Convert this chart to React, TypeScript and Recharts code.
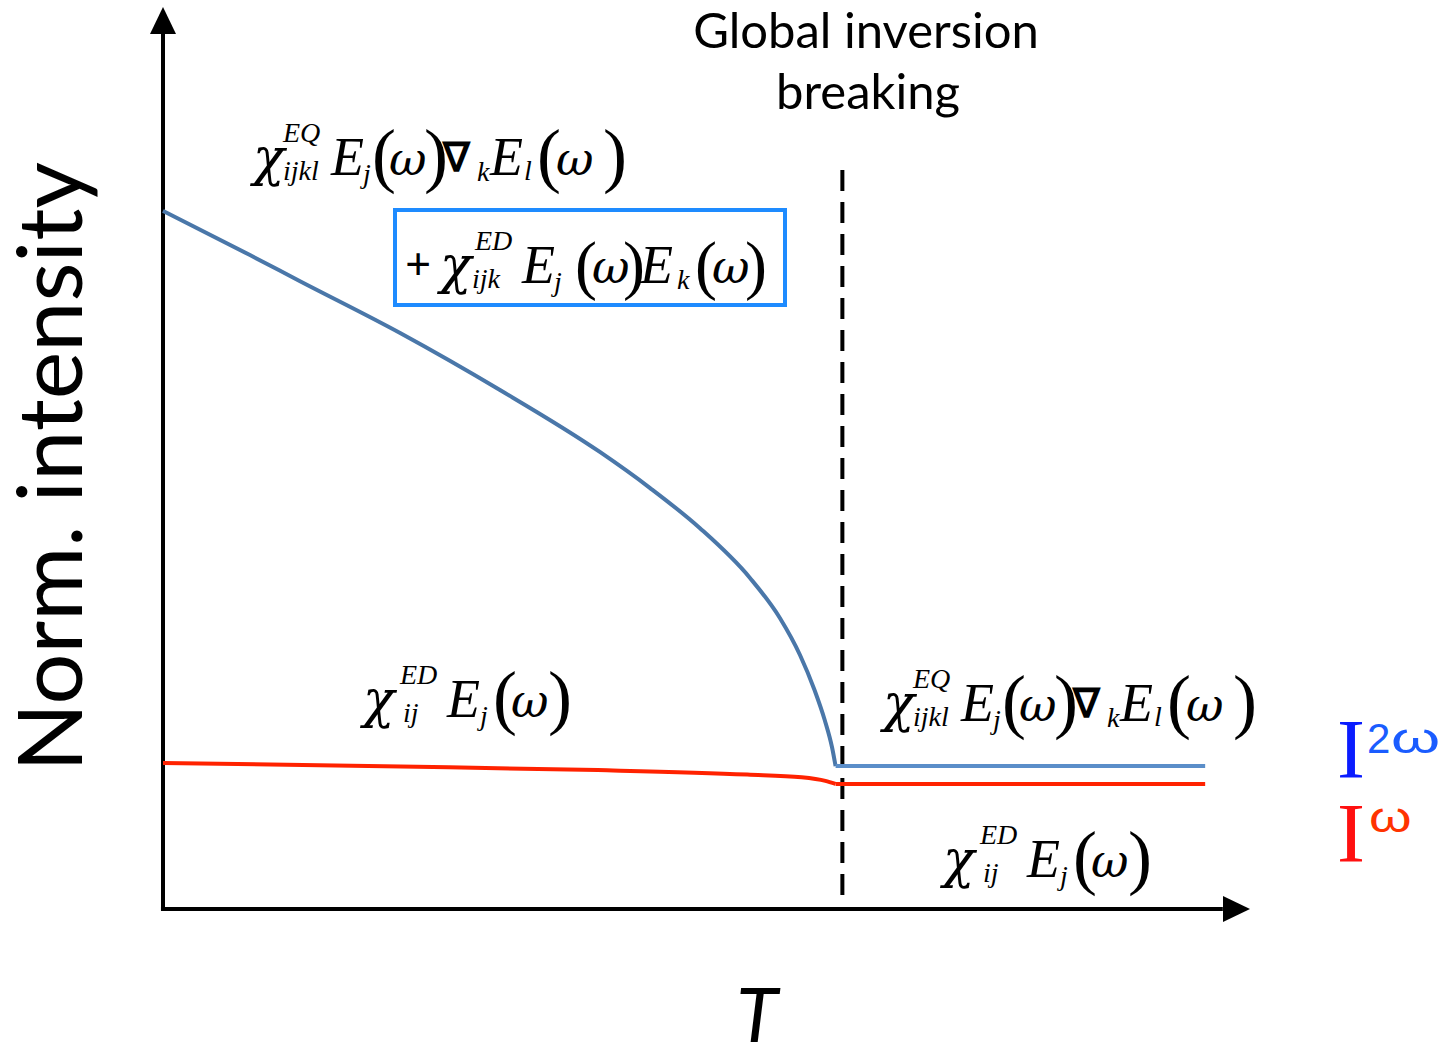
import React from "react";
import {
  ComposedChart,
  Line,
  XAxis,
  YAxis,
  ReferenceLine,
  ReferenceDot,
} from "recharts";

// normalised temperature (T / Tc) and normalised intensities
const tBlue = [0, 0.128, 0.2017, 0.349, 0.496, 0.643, 0.717, 0.79, 0.864, 0.908, 0.9376, 0.959, 0.974, 0.985, 0.99];
const iBlue = [0.774, 0.725, 0.696, 0.6386, 0.5754, 0.5067, 0.4667, 0.4224, 0.367, 0.3226, 0.2816, 0.2428, 0.2095, 0.1785, 0.1585];
const tRed = [0, 0.35, 0.64, 0.86, 0.94, 0.975, 0.99];
const iRed = [0.162, 0.158, 0.154, 0.149, 0.146, 0.142, 0.1386];
const tFlat = [0.99, 1.534];
const iBlueFlat = [0.1585, 0.1585];
const iRedFlat = [0.1386, 0.1386];
const tC = 1.0;

const W = 1452;
const H = 1051;

const zip = (ts: number[], vs: number[]) => ts.map((t, i) => ({ t, v: vs[i] }));

type Tok = { s: string; dx: number; dy: number; size: number; it?: boolean; bold?: boolean; greek?: boolean };

const MATH_FONT = "'Liberation Serif', 'Times New Roman', serif";
const GREEK_FONT = "'DejaVu Serif', serif";
const SANS = "Lato, 'Open Sans', sans-serif";

// chi^EQ_ijkl E_j(w) grad_k E_l(w)
const quadTokens: Tok[] = [
  { s: "χ", dx: 0, dy: 0, size: 52, it: true, greek: true },
  { s: "EQ", dx: 30, dy: -33, size: 28, it: true },
  { s: "ijkl", dx: 30, dy: 5, size: 28, it: true },
  { s: "E", dx: 78, dy: 0, size: 54, it: true },
  { s: "j", dx: 110, dy: 8, size: 28, it: true },
  { s: "(", dx: 119, dy: 4, size: 72 },
  { s: "ω", dx: 136, dy: 0, size: 46, it: true, greek: true },
  { s: ")", dx: 171, dy: 4, size: 72 },
  { s: "∇", dx: 190, dy: -4, size: 40, bold: true },
  { s: "k", dx: 224, dy: 6, size: 28, it: true },
  { s: "E", dx: 237, dy: 0, size: 54, it: true },
  { s: "l", dx: 271, dy: 5, size: 28, it: true },
  { s: "(", dx: 284, dy: 4, size: 72 },
  { s: "ω", dx: 303, dy: 0, size: 46, it: true, greek: true },
  { s: ")", dx: 350, dy: 4, size: 72 },
];

// chi^ED_ij E_j(w)
const dipTokens: Tok[] = [
  { s: "χ", dx: 0, dy: 0, size: 52, it: true, greek: true },
  { s: "ED", dx: 37, dy: -33, size: 28, it: true },
  { s: "ij", dx: 40, dy: 5, size: 28, it: true },
  { s: "E", dx: 84, dy: 0, size: 54, it: true },
  { s: "j", dx: 117, dy: 8, size: 28, it: true },
  { s: "(", dx: 130, dy: 4, size: 72 },
  { s: "ω", dx: 148, dy: 0, size: 46, it: true, greek: true },
  { s: ")", dx: 185, dy: 4, size: 72 },
];

// + chi^ED_ijk E_j(w) E_k(w)
const boxTokens: Tok[] = [
  { s: "+", dx: -35, dy: -3, size: 46, bold: true },
  { s: "χ", dx: 0, dy: 0, size: 52, it: true, greek: true },
  { s: "ED", dx: 35, dy: -33, size: 28, it: true },
  { s: "ijk", dx: 32, dy: 5, size: 28, it: true },
  { s: "E", dx: 82, dy: 0, size: 54, it: true },
  { s: "j", dx: 114, dy: 8, size: 28, it: true },
  { s: "(", dx: 135, dy: 4, size: 66 },
  { s: "ω", dx: 152, dy: 0, size: 46, it: true, greek: true },
  { s: ")", dx: 183, dy: 4, size: 66 },
  { s: "E", dx: 200, dy: 0, size: 54, it: true },
  { s: "k", dx: 237, dy: 6, size: 28, it: true },
  { s: "(", dx: 255, dy: 4, size: 66 },
  { s: "ω", dx: 272, dy: 0, size: 46, it: true, greek: true },
  { s: ")", dx: 305, dy: 4, size: 66 },
];

function Formula({ x, y, toks }: { x: number; y: number; toks: Tok[] }) {
  return (
    <g fill="#000">
      {toks.map((k, i) => (
        <text
          key={i}
          x={x + k.dx}
          y={y + k.dy}
          fontFamily={k.greek ? GREEK_FONT : MATH_FONT}
          fontSize={k.size}
          fontStyle={k.it ? "italic" : "normal"}
          fontWeight={k.bold ? 700 : 400}
        >
          {k.s}
        </text>
      ))}
    </g>
  );
}

const UpArrow = (p: any) => (
  <path d={`M${p.cx},${p.cy} L${p.cx - 13},${p.cy + 27} L${p.cx + 13},${p.cy + 27} Z`} fill="#000" />
);
const RightArrow = (p: any) => (
  <path d={`M${p.cx},${p.cy} L${p.cx - 27},${p.cy - 13} L${p.cx - 27},${p.cy + 13} Z`} fill="#000" />
);

export default function App() {
  return (
    <div style={{ position: "absolute", left: 0, top: 0, width: W, height: H, background: "#fff" }}>
      <ComposedChart
        width={W}
        height={H}
        margin={{ top: 7, right: 202, bottom: 142, left: 163 }}
      >
        <XAxis type="number" dataKey="t" domain={[0, 1.6]} hide />
        <YAxis type="number" dataKey="v" domain={[0, 1]} hide />
        {/* axes with arrowheads */}
        <ReferenceLine
          segment={[{ x: 0, y: -0.002 }, { x: 0, y: 0.97 }]}
          stroke="#000"
          strokeWidth={4}
          ifOverflow="visible"
        />
        <ReferenceLine
          segment={[{ x: -0.003, y: 0 }, { x: 1.56, y: 0 }]}
          stroke="#000"
          strokeWidth={4}
          ifOverflow="visible"
        />
        <ReferenceDot x={0} y={1} r={0} shape={UpArrow} ifOverflow="visible" />
        <ReferenceDot x={1.6} y={0} r={0} shape={RightArrow} ifOverflow="visible" />
        {/* transition temperature */}
        <ReferenceLine
          segment={[{ x: tC, y: 0.0155 }, { x: tC, y: 0.826 }]}
          stroke="#000"
          strokeWidth={4}
          strokeDasharray="21 11"
          ifOverflow="visible"
        />
        <Line
          data={zip(tRed, iRed)}
          dataKey="v"
          type="monotone"
          stroke="#ff2200"
          strokeWidth={4}
          dot={false}
          isAnimationActive={false}
        />
        <Line
          data={zip(tFlat, iRedFlat)}
          dataKey="v"
          type="linear"
          stroke="#ff2200"
          strokeWidth={4}
          dot={false}
          isAnimationActive={false}
        />
        <Line
          data={zip(tBlue, iBlue)}
          dataKey="v"
          type="monotone"
          stroke="#4a77a9"
          strokeWidth={4}
          dot={false}
          isAnimationActive={false}
        />
        <Line
          data={zip(tFlat, iBlueFlat)}
          dataKey="v"
          type="linear"
          stroke="#5b8ec9"
          strokeWidth={4}
          dot={false}
          isAnimationActive={false}
        />
      </ComposedChart>

      {/* annotations */}
      <svg width={W} height={H} style={{ position: "absolute", left: 0, top: 0, pointerEvents: "none" }}>
        <text x={866} y={48} fontFamily={SANS} fontSize={49} textAnchor="middle" fill="#000">
          Global inversion
        </text>
        <text x={868} y={109} fontFamily={SANS} fontSize={49} textAnchor="middle" fill="#000">
          breaking
        </text>
        <text
          x={82}
          y={467}
          transform="rotate(-90 82 467)"
          fontFamily={SANS}
          fontSize={90}
          textAnchor="middle"
          fill="#000"
        >
          Norm. intensity
        </text>
        <text x={757} y={1042} fontFamily={SANS} fontSize={76} fontStyle="italic" textAnchor="middle" fill="#000">
          T
        </text>

        <Formula x={253} y={175} toks={quadTokens} />
        <rect x={395} y={210} width={390} height={95} fill="none" stroke="#1e8bff" strokeWidth={4} />
        <Formula x={440} y={283} toks={boxTokens} />
        <Formula x={363} y={717} toks={dipTokens} />
        <Formula x={883} y={721} toks={quadTokens} />
        <Formula x={943} y={877} toks={dipTokens} />

        <text x={1337} y={778} fontFamily={MATH_FONT} fontSize={84} fill="#0a1cff">I</text>
        <text x={1367} y={753} fontFamily="'Liberation Sans', Arial, sans-serif" fontSize={42} fill="#1a5cff">2</text>
        <text
          x={1391}
          y={753}
          transform="translate(1391 0) scale(1.5 1) translate(-1391 0)"
          fontFamily="'Liberation Sans', Arial, sans-serif"
          fontSize={42}
          fill="#1a5cff"
        >
          ω
        </text>
        <text x={1337} y={862} fontFamily={MATH_FONT} fontSize={84} fill="#ff1010">I</text>
        <text
          x={1369}
          y={832}
          transform="translate(1369 0) scale(1.3 1) translate(-1369 0)"
          fontFamily="'Liberation Sans', Arial, sans-serif"
          fontSize={42}
          fill="#ff3300"
        >
          ω
        </text>
      </svg>
    </div>
  );
}
